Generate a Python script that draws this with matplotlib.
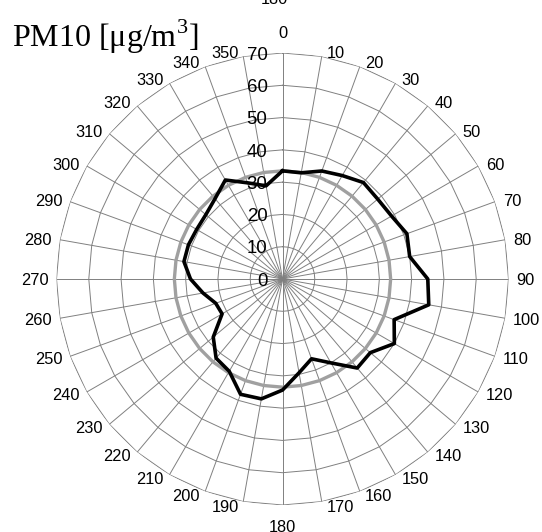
import numpy as np
import matplotlib
matplotlib.use('Agg')
import matplotlib.pyplot as plt

# ---- data ----
directions = list(range(0, 360, 10))
pm10 = [33.5, 33.4, 35.6, 37.0, 39.0, 38.5, 39.0, 41.0, 40.0, 45.0,
        46.0, 36.8, 40.0, 35.5, 36.0, 30.0, 26.3, 29.5, 34.4, 37.7,
        38.0, 33.0, 32.0, 28.0, 21.6, 22.0, 25.0, 28.5, 31.0, 31.0,
        30.7, 31.0, 32.5, 35.4, 31.7, 29.3]
mean_pm10 = [33.5] * len(directions)
radial_ticks = [0, 10, 20, 30, 40, 50, 60, 70]
direction_labels = [str(d) for d in directions]
title = 'PM10 [μg/m$^{\\mathrm{3}}$]'

plt.rcParams['font.family'] = ['Liberation Sans', 'DejaVu Sans']
plt.rcParams['mathtext.fontset'] = 'custom'
plt.rcParams['mathtext.rm'] = 'Liberation Serif'

W, H = 542, 532
fig = plt.figure(figsize=(W / 100, H / 100), dpi=100)
cx, cy, R = 282.5, 279.0, 226.0
ax = fig.add_axes([(cx - R) / W, (H - cy - R) / H, 2 * R / W, 2 * R / H],
                  projection='polar')
ax.set_theta_zero_location('N')
ax.set_theta_direction(-1)
rmax = radial_ticks[-1]
ax.set_ylim(0, rmax)
ax.grid(False)
ax.set_xticks([])
ax.set_yticks([])
ax.spines['polar'].set_visible(False)
ax.patch.set_visible(False)

theta = np.deg2rad(directions)
theta_c = np.append(theta, theta[0])

grid_c = '#808080'
for r in radial_ticks[1:]:
    ax.plot(theta_c, [r] * len(theta_c), color=grid_c, lw=0.7, zorder=1)
for t in theta:
    ax.plot([t, t], [0, rmax], color=grid_c, lw=0.7, zorder=1)

ax.plot(theta_c, mean_pm10 + mean_pm10[:1], color='#a0a0a0', lw=2.4, zorder=3)
ax.plot(theta_c, pm10 + pm10[:1], color='black', lw=2.6, zorder=4)

# radial tick labels
fs_r = 13.4
h_r = 0.716 * fs_r * 100 / 72
for r in radial_ticks:
    ax.annotate(str(r), xy=(0, r), xytext=(-15, -h_r / 2),
                textcoords='offset pixels', ha='right', va='baseline',
                fontsize=fs_r, zorder=5, annotation_clip=False)

# direction labels
fs_a = 11.8
px = fs_a * 100 / 72
h_a = 0.716 * px
for t, lab in zip(theta, direction_labels):
    s, c = np.sin(t), np.cos(t)
    if abs(s) < 1e-6:
        ha = 'center'
        if c > 0:
            off = (0, 15)
        else:
            off = (0, -15.7 - h_a)
    else:
        ha = 'left' if s > 0 else 'right'
        gap = 4 + 4 * abs(s)
        off = (np.sign(s) * gap, 4.5 * c - h_a / 2)
    ax.annotate(lab, xy=(t, rmax), xytext=off,
                textcoords='offset pixels', ha=ha, va='baseline',
                fontsize=fs_a, annotation_clip=False)

fig.text(274 / W, 1 - 4.2 / H, '180', ha='center', va='baseline', fontsize=fs_a)
fig.text(12 / W, 1 - 46.5 / H, title, ha='left', va='baseline',
         fontsize=23, family=['Liberation Serif', 'DejaVu Serif'])

fig.savefig('out.png', dpi=100)
